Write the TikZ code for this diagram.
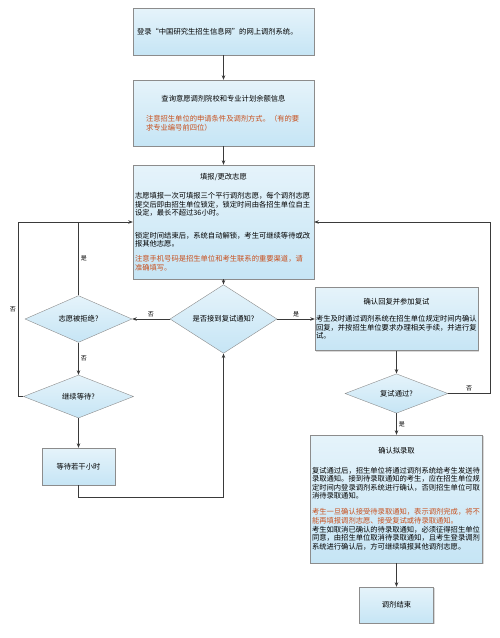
\documentclass[tikz,border=0pt]{standalone}
\usepackage{fontspec}
\setmainfont{Noto Sans CJK SC}
\usetikzlibrary{shapes.geometric,arrows.meta,shadows}

\definecolor{boxblue}{HTML}{C6E5F5}
\definecolor{notered}{HTML}{C8501E}
\definecolor{linegray}{HTML}{3A3A3A}

\begin{document}
\begin{tikzpicture}[x=1pt,y=-1pt,
						font=\fontsize{7.3}{8.6}\selectfont,
						every node/.style={text=black},
						box/.style={rectangle,draw=black!45,
						top color=boxblue!45,bottom color=boxblue,
						drop shadow={shadow xshift=1pt,shadow yshift=-1pt,fill=black!30},
						inner xsep=2pt,inner ysep=0pt,align=left},
						dec/.style={diamond,draw=black!45,
						top color=boxblue!45,bottom color=boxblue,
						inner sep=0pt,minimum width=107pt,minimum height=42pt},
						lbl/.style={font=\fontsize{6}{7}\selectfont,inner sep=2pt},
						line/.style={draw=linegray,line width=0.7pt},
						>={Stealth[length=4.5pt,width=3.5pt]}]

		\useasboundingbox (0,0) rectangle (500,638);

		\node[box,text width=173pt,inner xsep=4pt,minimum height=47pt] (b1) at (223.5,31.5) {登录“中国研究生招生信息网”的网上调剂系统。};
		\node[box,text width=155pt,inner xsep=13pt,minimum height=66pt] (b2) at (223.5,113) {\hfill 查询意愿调剂院校和专业计划余额信息\hfill\null\\[12pt]\color{notered}注意招生单位的申请条件及调剂方式。（有的要\\求专业编号前四位）};
		\node[box,text width=177pt,minimum height=114pt] (b3) at (223.5,222) {\hfill 填报/更改志愿\hfill\null\\[10.5pt]志愿填报一次可填报三个平行调剂志愿，每个调剂志愿\\提交后即由招生单位锁定，锁定时间由各招生单位自主\\设定，最长不超过36小时。\\[14pt]锁定时间结束后，系统自动解锁，考生可继续等待或改\\报其他志愿。\\[6pt]\color{notered}注意手机号码是招生单位和考生联系的重要渠道，请\\准确填写。};

		\node[dec] (d1) at (223.5,319) {是否接到复试通知?};
		\node[dec] (d2) at (78.5,319) {志愿被拒绝?};
		\node[dec,minimum width=110pt,minimum height=43pt] (d3) at (78.5,396.5) {继续等待?};
		\node[box,align=center,minimum width=73pt,minimum height=37pt] (b7) at (78.5,466.5) {等待若干小时};

		\node[box,text width=161pt,inner xsep=1pt,minimum height=63pt] (b4) at (396.5,319) {\hfill 确认回复并参加复试\hfill\null\\[8pt]考生及时通过调剂系统在招生单位规定时间内确认\\回复，并按招生单位要求办理相关手续，并进行复\\试。};
		\node[dec,minimum width=103pt,minimum height=37pt] (d4) at (396.5,393.5) {复试通过?};
		\node[box,text width=169pt,inner xsep=1.5pt,minimum height=128pt] (b5) at (396.5,499) {\hfill 确认拟录取\hfill\null\\[10.5pt]复试通过后，招生单位将通过调剂系统给考生发送待\\录取通知。接到待录取通知的考生，应在招生单位规\\定时间内登录调剂系统进行确认，否则招生单位可取\\消待录取通知。\\[7.5pt]\color{notered}考生一旦确认接受待录取通知，表示调剂完成，将不\\能再填报调剂志愿、接受复试或待录取通知。\\\color{black}考生如取消已确认的待录取通知，必须征得招生单位\\同意，由招生单位取消待录取通知，且考生登录调剂\\系统进行确认后，方可继续填报其他调剂志愿。};
		\node[box,align=center,minimum width=74pt,minimum height=36pt] (b6) at (396.5,605) {调剂结束};

		\draw[line,->] (b1) -- (b2);
		\draw[line,->] (b2) -- (b3);
		\draw[line,->] (b3) -- (d1);
		\draw[line,->] (d1) -- node[lbl,above] {是} (b4);
		\draw[line,->] (d1) -- node[lbl,above] {否} (d2);
		\draw[line] (d2) -- node[lbl,right] {是} (d2 |- b3.west);
		\draw[line,->] (d2) -- node[lbl,right] {否} (d3);
		\draw[line,->] (d3) -- (b7);
		\draw[line,->] (d3.west) -- ++(left:5pt) |- node[lbl,pos=0.25,left] {否} (b3.west);
		\draw[line,->] (b7.south) -- ++(down:12pt) -| (d1.south);
		\draw[line,->] (b4) -- (d4);
		\draw[line,->] (d4.east) -- node[lbl,above] {否} ++(right:42pt) |- (b3.east);
		\draw[line,->] (d4) -- node[lbl,right] {是} (b5);
		\draw[line,->] (b5) -- (b6);

	\end{tikzpicture}
\end{document}
